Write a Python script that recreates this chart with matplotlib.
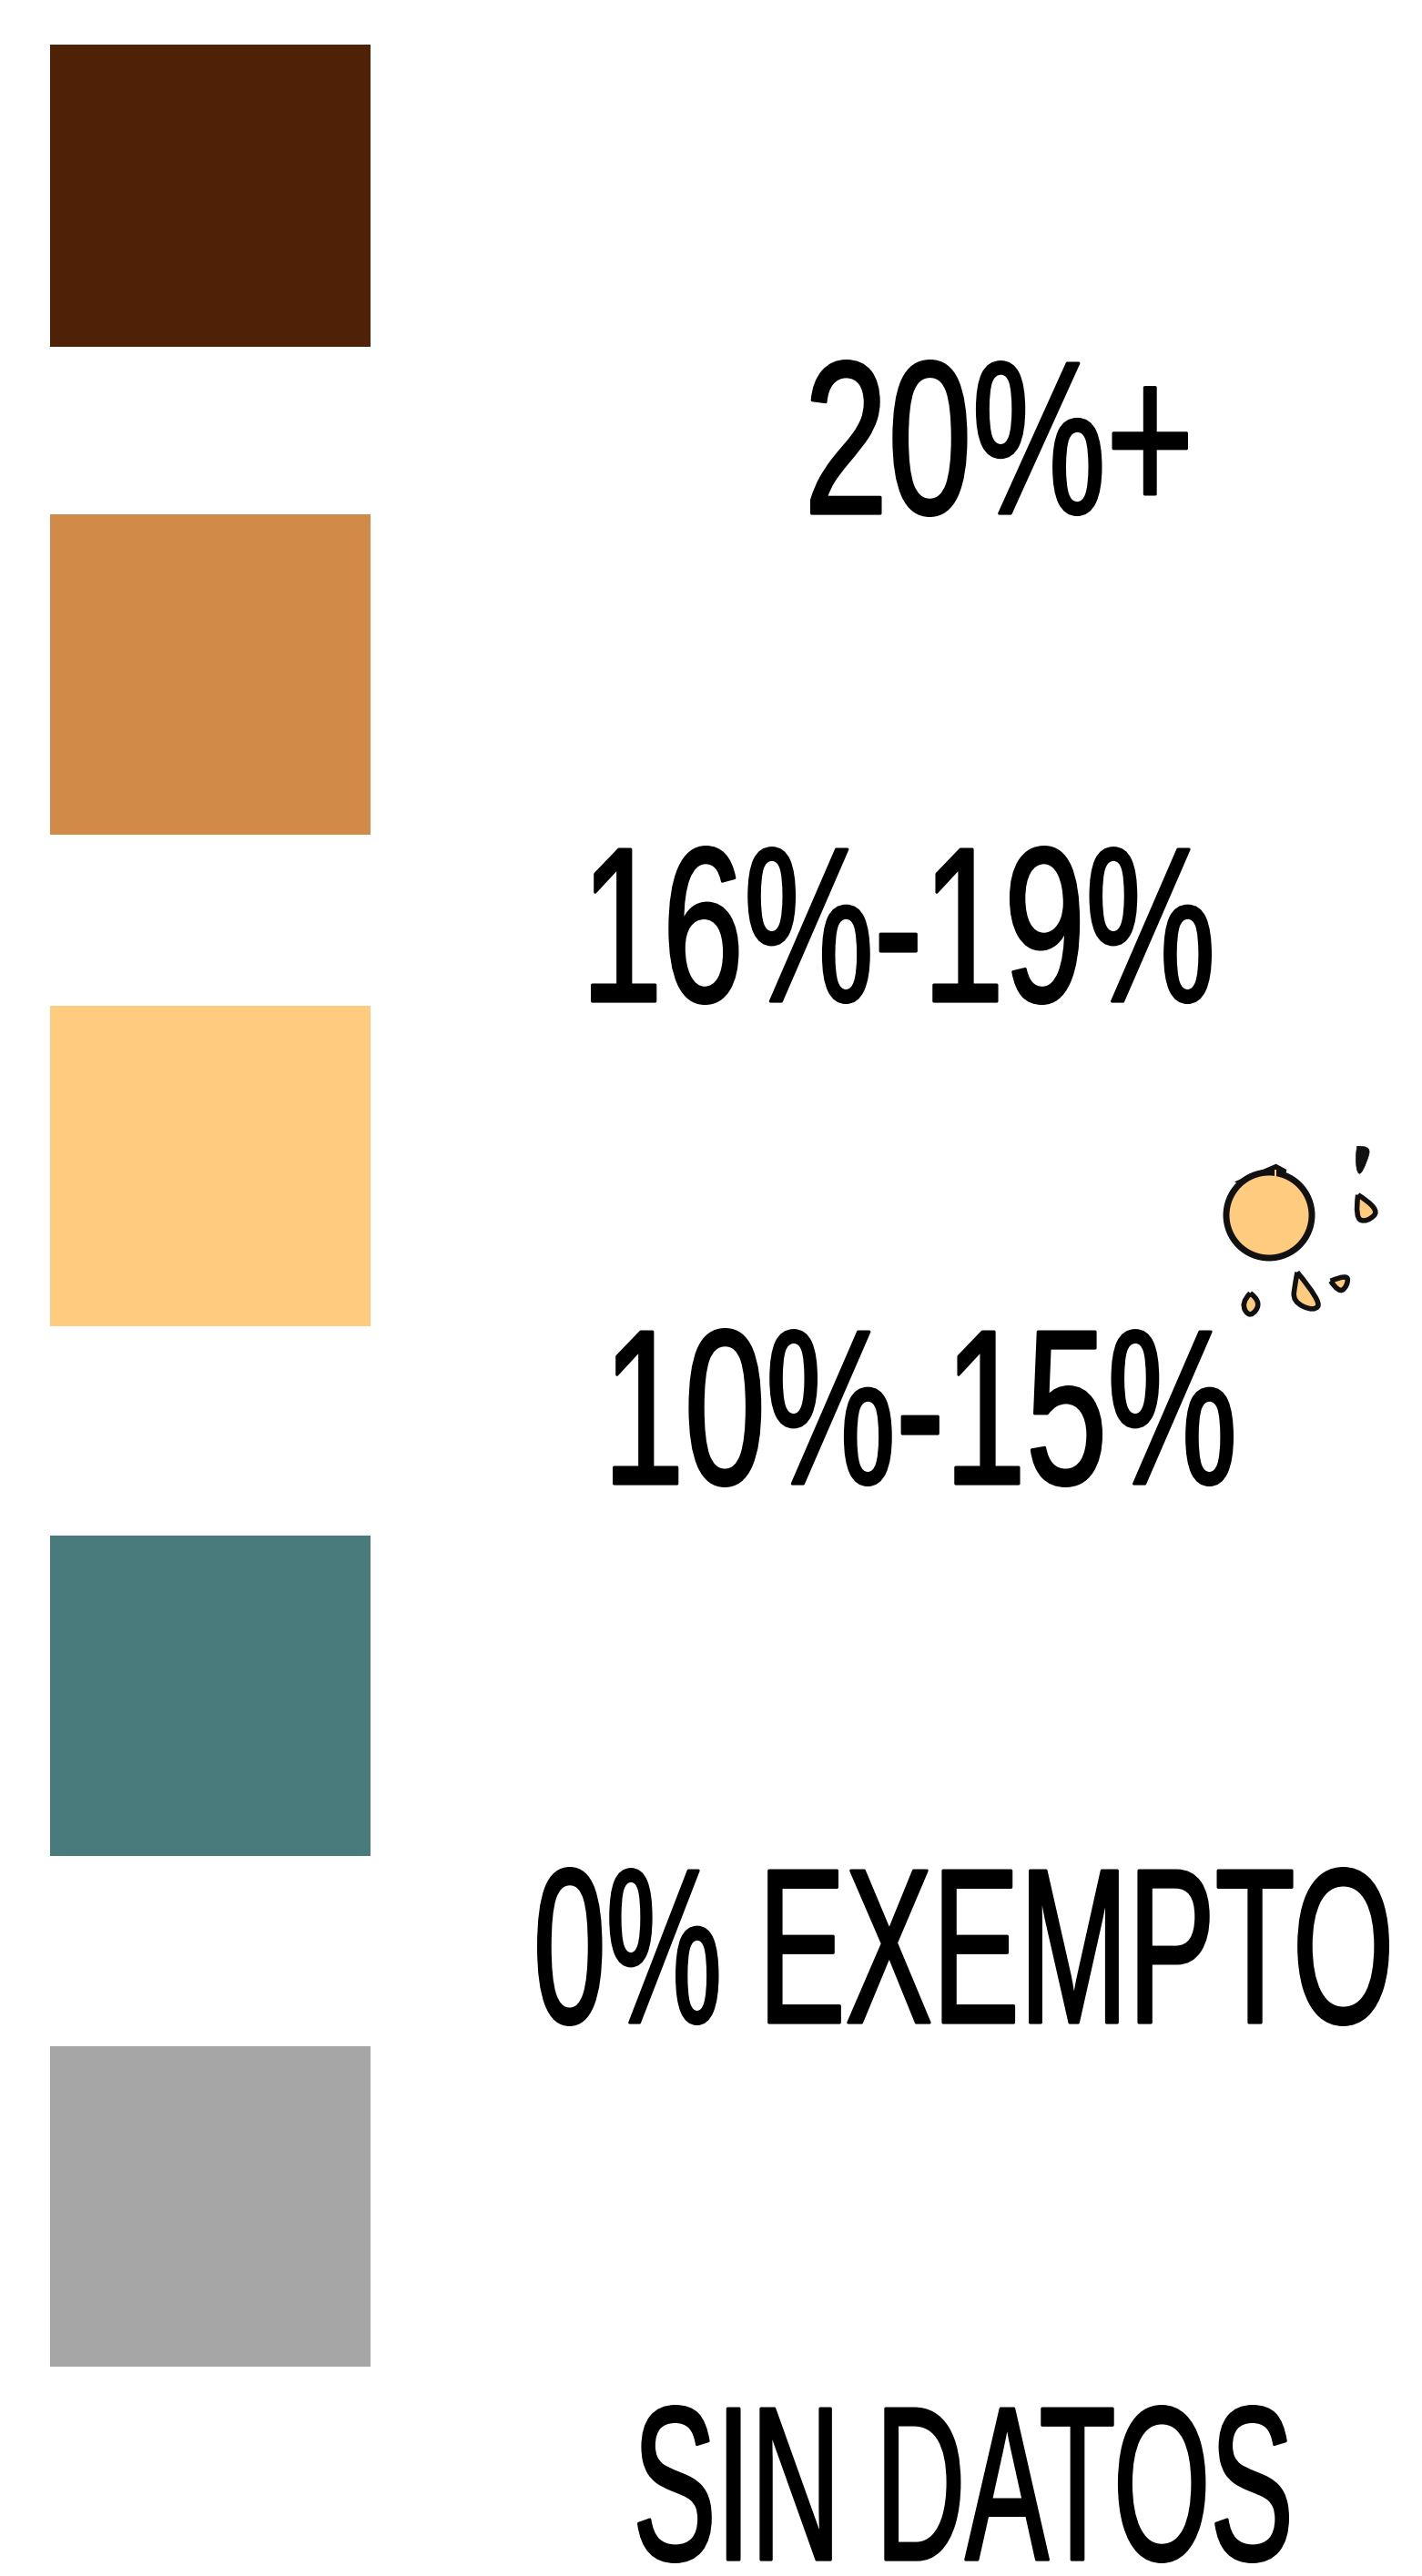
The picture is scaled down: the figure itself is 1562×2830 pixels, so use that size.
import matplotlib
matplotlib.use('Agg')
import matplotlib.pyplot as plt
from matplotlib.font_manager import FontProperties
from matplotlib.patches import Circle, PathPatch, Rectangle
from matplotlib.path import Path
from matplotlib.patheffects import AbstractPathEffect
from matplotlib.textpath import TextPath
from matplotlib.transforms import Affine2D

# legend data
labels = ['20%+', '16%-19%', '10%-15%', '0% EXEMPTO', 'SIN DATOS']
colors = ['#4F2106', '#D18A47', '#FFCC7F', '#497A7C', '#A6A6A6']

# layout in image pixels, y going down
swatch_x = (55, 407)
swatch_tops = [49, 565, 1105, 1687, 2248]
swatch_bottoms = [381, 917, 1457, 2039, 2600]
label_boxes = [(890, 1305, 395, 568),
               (649, 1331, 929, 1104),
               (673, 1355, 1459, 1634),
               (590, 1526, 2051, 2226),
               (700, 1416, 2642, 2816)]
FIG_H = 2830
STROKE_PX = 3

ICON_ORIGIN = (1320, 1230)
ICON_ZOOM = 3
ORANGE_STEM = [(108, 205), (245, 146), (280, 165), (272, 200), (150, 230)]
STEM_NOTCH = [(240, 165), (247, 165), (247, 190), (240, 190)]
DROPS = [
    [(515, 248), (590, 295), (545, 338), (505, 325)],
    [(315, 503), (395, 600), (370, 632), (300, 600), (308, 540)],
    [(425, 532), (482, 508), (480, 548), (452, 572)],
    [(160, 572), (198, 600), (160, 655), (128, 605)],
]
SLIVER = [(512, 88), (558, 85), (545, 140), (517, 192), (505, 130)]


class Squeeze(AbstractPathEffect):
    """Stretch the glyph outlines of a text about its baseline origin and thicken them."""

    def __init__(self, sy, dy=0, stroke=0):
        super().__init__()
        self.sy = sy
        self.dy = dy
        self.stroke = stroke

    def draw_path(self, renderer, gc, tpath, affine, rgbFace=None):
        gc0 = renderer.new_gc()
        gc0.copy_properties(gc)
        gc0.set_linewidth(self.stroke * 72 / 100)
        tf = Affine2D().scale(1, self.sy) + affine + Affine2D().translate(0, -self.dy)
        renderer.draw_path(gc0, tpath, tf, rgbFace)
        gc0.restore()


def icon_xy(pts):
    return [(ICON_ORIGIN[0] + x / ICON_ZOOM, ICON_ORIGIN[1] + y / ICON_ZOOM) for x, y in pts]


def polygon(pts):
    return Path(icon_xy(pts) + [(0, 0)], [Path.MOVETO] + [Path.LINETO] * (len(pts) - 1) + [Path.CLOSEPOLY])


def blob(pts):
    # closed curve from quadratic segments, first point stays a sharp tip
    pts = icon_xy(pts)
    verts = [pts[0]]
    codes = [Path.MOVETO]
    for i in range(1, len(pts)):
        nxt = pts[(i + 1) % len(pts)]
        end = nxt if i == len(pts) - 1 else ((pts[i][0] + nxt[0]) / 2, (pts[i][1] + nxt[1]) / 2)
        verts += [pts[i], end]
        codes += [Path.CURVE3, Path.CURVE3]
    return Path(verts, codes)


def draw_label(ax, text, box, font):
    x0, x1, y0, y1 = box
    x0 += STROKE_PX / 2
    x1 -= STROKE_PX / 2
    y0 += STROKE_PX / 2
    y1 -= STROKE_PX / 2
    ref = TextPath((0, 0), text, size=100, prop=font).get_extents()
    # TextPath units are points, the figure is 100 dpi
    size = 100 * (x1 - x0) / (ref.width * 100 / 72)
    px = size / 100 * 100 / 72
    sy = (y1 - y0) / (ref.height * px)
    base = y1 + ref.y0 * px * sy
    # keep the text box inside the figure, its descent reaches far below the glyphs
    limit = FIG_H - 4 - 0.22 * size * 100 / 72
    dy = max(0, base - limit)
    ax.text(x0 - ref.x0 * px, base - dy, text, fontproperties=font, fontsize=size,
            ha='left', va='baseline', color='black',
            path_effects=[Squeeze(sy, dy, STROKE_PX)])


fig = plt.figure(figsize=(15.62, 28.30), dpi=100, facecolor='white')
ax = fig.add_axes([0, 0, 1, 1])
ax.set_xlim(0, 1562)
ax.set_ylim(FIG_H, 0)
ax.axis('off')

font = FontProperties(family='Liberation Sans')

for color, top, bottom in zip(colors, swatch_tops, swatch_bottoms):
    ax.add_patch(Rectangle((swatch_x[0], top), swatch_x[1] - swatch_x[0], bottom - top,
                           facecolor=color, edgecolor='none'))

for text, box in zip(labels, label_boxes):
    draw_label(ax, text, box, font)

# orange icon, wedge goes under the fruit so the fill stays round
ax.add_patch(PathPatch(polygon(ORANGE_STEM), facecolor='#111111', edgecolor='none'))
ax.add_patch(Circle((1394, 1335), 47, facecolor='#FFCC7F', edgecolor='#111111', lw=5))
ax.add_patch(PathPatch(polygon(STEM_NOTCH), facecolor='#FFCC7F', edgecolor='none'))
for drop in DROPS:
    ax.add_patch(PathPatch(blob(drop), facecolor='#FFCC7F', edgecolor='#111111', lw=4))
ax.add_patch(PathPatch(blob(SLIVER), facecolor='#111111', edgecolor='#111111', lw=0.5))

fig.savefig('out.png', dpi=100)
